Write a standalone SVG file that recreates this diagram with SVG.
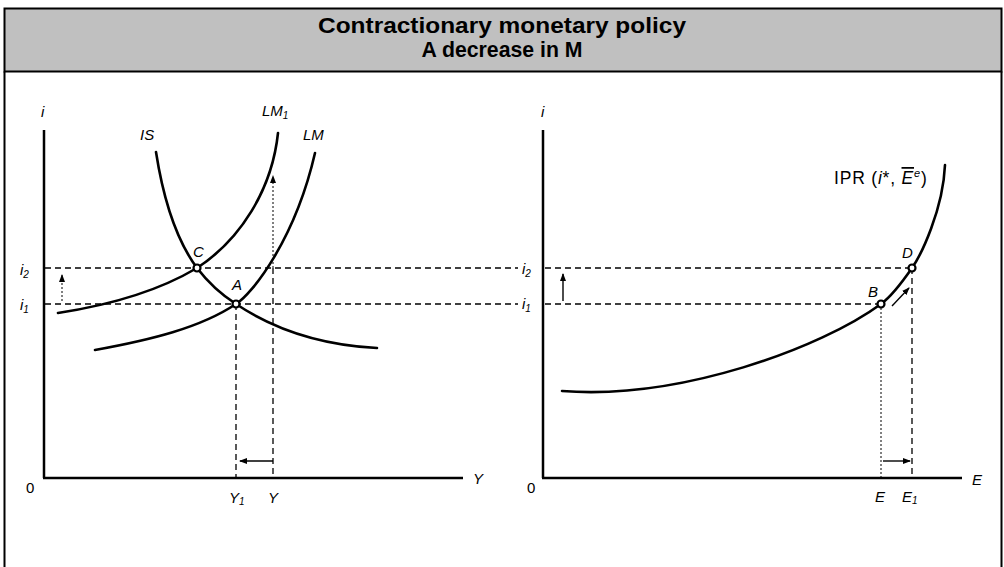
<svg xmlns="http://www.w3.org/2000/svg" width="1004" height="567" viewBox="0 0 1004 567">
<style>
.t{font-family:"Liberation Sans",Arial,sans-serif;font-style:italic;font-size:15px;fill:#000}
.s{font-size:10px}
.ipr{font-family:"Liberation Sans",Arial,sans-serif;font-size:17.5px;letter-spacing:0.8px;fill:#000}
.title{font-family:"Liberation Sans",Arial,sans-serif;font-weight:bold;font-size:22px;fill:#000;text-anchor:middle}
.ax{stroke:#000;stroke-width:2.5;fill:none}
.cv{stroke:#000;stroke-width:2.6;fill:none;stroke-linecap:round}
.dash{stroke:#000;stroke-width:1.3;stroke-dasharray:6,4;fill:none}
.dot{stroke:#000;stroke-width:1;stroke-dasharray:2,2;fill:none}
.ar{stroke:#000;stroke-width:1.4;fill:none}
.pt{fill:#fff;stroke:#000;stroke-width:2.2}
</style>
<defs>
<marker id="ah" markerWidth="8" markerHeight="8" refX="7" refY="4" orient="auto" markerUnits="userSpaceOnUse">
<path d="M0,1 L8,4 L0,7 Z" fill="#000"/>
</marker>
</defs>
<rect x="0" y="0" width="1004" height="567" fill="#fff"/>
<g id="frame">
<rect x="4.5" y="8.5" width="997" height="63" fill="#c0c0c0" stroke="#000" stroke-width="2"/>
<line x1="4.5" y1="71.5" x2="4.5" y2="567" stroke="#000" stroke-width="2"/>
<line x1="1001.5" y1="71.5" x2="1001.5" y2="567" stroke="#000" stroke-width="2"/>
<text class="title" x="502" y="33" textLength="368" lengthAdjust="spacingAndGlyphs">Contractionary monetary policy</text>
<text class="title" x="502" y="57" textLength="161" lengthAdjust="spacingAndGlyphs">A decrease in M</text>
</g>
<g id="left-chart">
<g id="left-axes">
<line class="ax" x1="44" y1="130" x2="44" y2="478"/>
<line class="ax" x1="43" y1="478" x2="463" y2="478"/>
<text class="t" x="41" y="117">i</text>
<text class="t" x="473" y="484">Y</text>
<text class="t" x="26" y="493" style="font-style:normal">0</text>
<text class="t" x="20" y="275">i<tspan class="s" dy="3">2</tspan></text>
<text class="t" x="20" y="310">i<tspan class="s" dy="3">1</tspan></text>
<text class="t" x="229" y="503">Y<tspan class="s" dy="2">1</tspan></text>
<text class="t" x="268" y="503">Y</text>
</g>
<g id="IS">
<path class="cv" d="M156,152 C165,210 180,245 197,268 C210,285 222,295 236,304 C275,330 320,345 377,348"/>
<text class="t" x="140" y="140">IS</text>
</g>
<g id="LM1">
<path class="cv" d="M58,313 C110,305 160,290 197,268 C240,240 272,190 278,133"/>
<text class="t" x="262" y="116">LM<tspan class="s" dy="3">1</tspan></text>
</g>
<g id="LM">
<path class="cv" d="M95,350 C150,340 200,328 236,304 C252,294 295,240 315,153"/>
<text class="t" x="303" y="140">LM</text>
</g>
</g>
<g id="right-chart">
<g id="right-axes">
<line class="ax" x1="543" y1="130" x2="543" y2="478"/>
<line class="ax" x1="542" y1="478" x2="962" y2="478"/>
<text class="t" x="541" y="117">i</text>
<text class="t" x="972" y="485">E</text>
<text class="t" x="527" y="493" style="font-style:normal">0</text>
<text class="t" x="522" y="274">i<tspan class="s" dy="3">2</tspan></text>
<text class="t" x="522" y="309">i<tspan class="s" dy="3">1</tspan></text>
<text class="t" x="875" y="502">E</text>
<text class="t" x="902" y="502">E<tspan class="s" dy="2">1</tspan></text>
</g>
<g id="IPR">
<path class="cv" d="M562,391 C680,400 821,348 881,304 C892,296 903,281 912,268 C921,255 943,210 945,165"/>
<text class="ipr" x="834" y="184">IPR (<tspan style="font-style:italic">i</tspan>*, <tspan style="font-style:italic;text-decoration:overline">E</tspan><tspan style="font-style:italic;font-size:11px" dy="-7">e</tspan><tspan dy="7">)</tspan></text>
</g>
</g>
<g id="connectors">
<line class="dash" x1="45" y1="268" x2="518" y2="268"/>
<line class="dash" x1="545" y1="268" x2="912" y2="268"/>
<line class="dash" x1="45" y1="304" x2="518" y2="304"/>
<line class="dash" x1="545" y1="304" x2="881" y2="304"/>
<line class="dash" x1="236" y1="304" x2="236" y2="478"/>
<line class="dash" x1="273" y1="268" x2="273" y2="478"/>
<line class="dot" x1="273" y1="268" x2="273" y2="176" marker-end="url(#ah)"/>
<line class="ar" x1="273" y1="461" x2="240" y2="461" marker-end="url(#ah)"/>
<line class="dot" x1="62" y1="301" x2="62" y2="275" marker-end="url(#ah)"/>
<line class="dot" x1="881" y1="304" x2="881" y2="478"/>
<line class="dash" x1="912" y1="268" x2="912" y2="478"/>
<line class="ar" x1="883" y1="461" x2="910" y2="461" marker-end="url(#ah)"/>
<line class="ar" x1="563" y1="301" x2="563" y2="274" marker-end="url(#ah)"/>
<line class="ar" x1="892" y1="306" x2="909" y2="288" marker-end="url(#ah)"/>
</g>
<g id="points">
<g id="C"><circle class="pt" cx="197" cy="268" r="3.5"/><text class="t" x="193" y="257">C</text></g>
<g id="A"><circle class="pt" cx="236" cy="304" r="3.5"/><text class="t" x="232" y="290">A</text></g>
<g id="B"><circle class="pt" cx="881" cy="304" r="3.5"/><text class="t" x="868" y="297">B</text></g>
<g id="D"><circle class="pt" cx="912" cy="268" r="3.5"/><text class="t" x="902" y="258">D</text></g>
</g>
</svg>
